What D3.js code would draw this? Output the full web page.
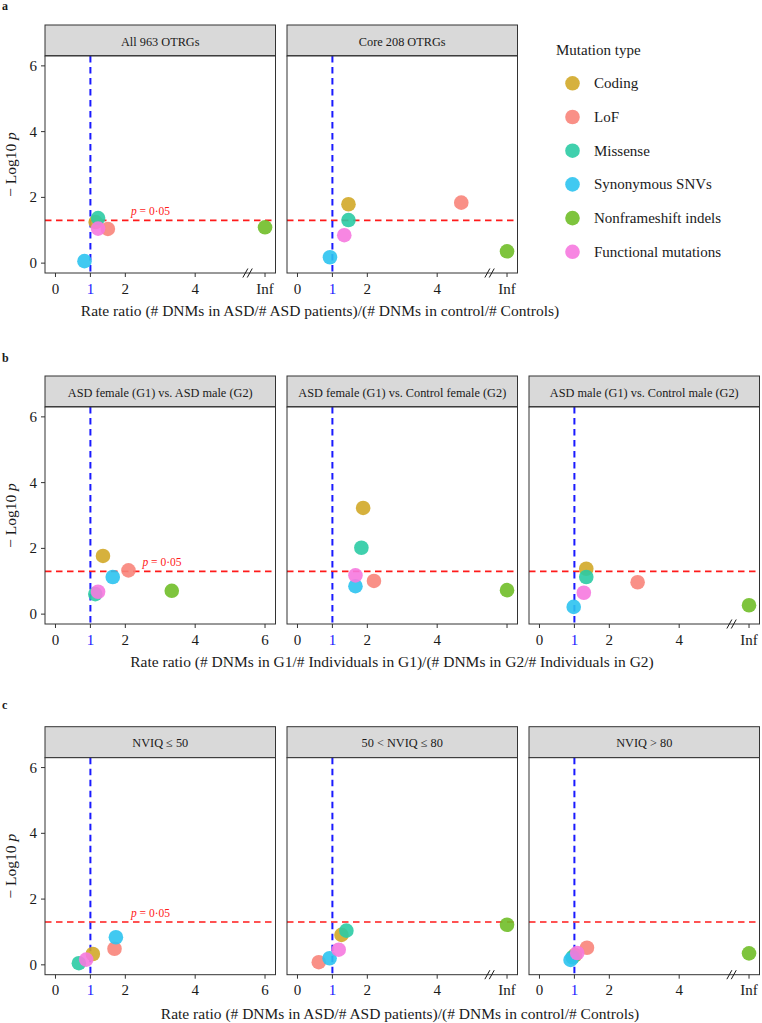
<!DOCTYPE html>
<html>
<head>
<meta charset="utf-8">
<script src="https://cdn.jsdelivr.net/npm/d3@7"></script>
<style>
  html, body { margin: 0; padding: 0; background: #fff; }
  svg { display: block; }
  text { font-family: "Liberation Serif", "DejaVu Serif", serif; }
</style>
</head>
<body>
<svg id="chart" width="762" height="1023"></svg>
<script>
// ---------------- DATA ----------------
const mutationTypes = ["Coding", "LoF", "Missense", "Synonymous SNVs", "Nonframeshift indels", "Functional mutations"];
const typeColors = ["#D1A928", "#F8847A", "#2BCBA4", "#2CC3F0", "#70BE28", "#F679DF"];

// "Inf" = infinite rate ratio, drawn at the axis break position
const stripLabels = [
  ["All 963 OTRGs", "Core 208 OTRGs"],
  ["ASD female (G1) vs. ASD male (G2)", "ASD female (G1) vs. Control female (G2)", "ASD male (G1) vs. Control male (G2)"],
  ["NVIQ \u2264 50", "50 < NVIQ \u2264 80", "NVIQ > 80"]
];

// order of values follows mutationTypes; null = not shown
const a1_ratio = [1.15, 1.50, 1.22, 0.83, "Inf", 1.22];
const a1_logp  = [1.25, 1.04, 1.37, 0.06, 1.09, 1.05];
const a2_ratio = [1.46, 4.69, 1.46, 0.93, "Inf", 1.34];
const a2_logp  = [1.79, 1.84, 1.31, 0.18, 0.36, 0.85];

const b1_ratio = [1.36, 2.09, 1.14, 1.64, 3.33, 1.22];
const b1_logp  = [1.77, 1.33, 0.61, 1.13, 0.71, 0.68];
const b2_ratio = [1.88, 2.19, 1.83, 1.66, 6.00, 1.66];
const b2_logp  = [3.23, 1.01, 2.02, 0.85, 0.73, 1.18];
const b3_ratio = [1.34, 2.81, 1.34, 0.98, "Inf", 1.27];
const b3_logp  = [1.38, 0.97, 1.13, 0.22, 0.27, 0.65];

const c1_ratio = [1.07, 1.69, 0.67, 1.73, null, 0.88];
const c1_logp  = [0.33, 0.49, 0.05, 0.84, null, 0.16];
const c2_ratio = [1.26, 0.61, 1.40, 0.92, "Inf", 1.18];
const c2_logp  = [0.91, 0.08, 1.04, 0.20, 1.22, 0.46];
const c3_ratio = [1.02, 1.36, 0.95, 0.89, "Inf", 1.08];
const c3_logp  = [0.30, 0.52, 0.23, 0.15, 0.35, 0.36];

// x tick sets
const xTicksInf   = [0, 1, 2, 4, "Inf"];
const xTicksSix   = [0, 1, 2, 4, 6];
const xTicksBlank = [0, 1, 2, 4, ""];
const yTicks = [0, 2, 4, 6];
const pThreshold = 0.05;
const refRatio = 1;

const xTitles = [
  "Rate ratio (# DNMs in ASD/# ASD patients)/(# DNMs in control/# Controls)",
  "Rate ratio (# DNMs in G1/# Individuals in G1)/(# DNMs in G2/# Individuals in G2)",
  "Rate ratio (# DNMs in ASD/# ASD patients)/(# DNMs in control/# Controls)"
];
const rowLetters = ["a", "b", "c"];

// ---------------- LAYOUT ----------------
const panels = [
  {row: 0, col: 0, ratio: a1_ratio, logp: a1_logp, ticks: xTicksInf, brk: true,  plab: true},
  {row: 0, col: 1, ratio: a2_ratio, logp: a2_logp, ticks: xTicksInf, brk: true,  plab: false},
  {row: 1, col: 0, ratio: b1_ratio, logp: b1_logp, ticks: xTicksSix, brk: false, plab: true, plabX: 3.05},
  {row: 1, col: 1, ratio: b2_ratio, logp: b2_logp, ticks: xTicksBlank, brk: false, plab: false},
  {row: 1, col: 2, ratio: b3_ratio, logp: b3_logp, ticks: xTicksInf, brk: true,  plab: false},
  {row: 2, col: 0, ratio: c1_ratio, logp: c1_logp, ticks: xTicksSix, brk: false, plab: true},
  {row: 2, col: 1, ratio: c2_ratio, logp: c2_logp, ticks: xTicksInf, brk: true,  plab: false},
  {row: 2, col: 2, ratio: c3_ratio, logp: c3_logp, ticks: xTicksInf, brk: true,  plab: false}
];

const colLeft = [45, 287, 529];
const panelW = 230.5;
const stripTop = [25, 376, 726.7];
const stripH = 31;
const plotH = 217;
const infPos = 6;

const svg = d3.select("#chart");

const xScale = d3.scaleLinear().domain([-0.3, 6.3]);
const yScale = d3.scaleLinear().domain([-0.3, 6.3]);
const toX = v => (v === "Inf" ? infPos : v);

panels.forEach(p => {
  const x0 = colLeft[p.col];
  const top = stripTop[p.row] + stripH;
  const g = svg.append("g");
  const xs = xScale.copy().range([x0, x0 + panelW]);
  const ys = yScale.copy().range([top + plotH, top]);

  // strip
  g.append("rect").attr("x", x0).attr("y", stripTop[p.row]).attr("width", panelW).attr("height", stripH)
    .attr("fill", "#D9D9D9").attr("stroke", "#333").attr("stroke-width", 1);
  g.append("line").attr("x1", x0).attr("x2", x0 + panelW).attr("y1", top).attr("y2", top)
    .attr("stroke", "#333").attr("stroke-width", 1.6);
  g.append("text").attr("x", x0 + panelW / 2).attr("y", stripTop[p.row] + 20.5)
    .attr("text-anchor", "middle").attr("font-size", 12.3).attr("fill", "#1a1a1a")
    .text(stripLabels[p.row][p.col]);

  // panel bg
  g.append("rect").attr("x", x0).attr("y", top).attr("width", panelW).attr("height", plotH)
    .attr("fill", "#fff");

  // reference lines
  g.append("line").attr("x1", x0).attr("x2", x0 + panelW)
    .attr("y1", ys(-Math.log10(pThreshold))).attr("y2", ys(-Math.log10(pThreshold)))
    .attr("stroke", "#FF1A1A").attr("stroke-width", 1.6).attr("stroke-dasharray", "6.5,4.5");
  g.append("line").attr("x1", xs(refRatio)).attr("x2", xs(refRatio))
    .attr("y1", top).attr("y2", top + plotH)
    .attr("stroke", "#1A1AFF").attr("stroke-width", 2).attr("stroke-dasharray", "6.5,4.5");

  // points
  const pts = mutationTypes.map((t, i) => ({t, i, x: p.ratio[i], y: p.logp[i]}))
    .filter(d => d.x !== null && d.y !== null);
  g.selectAll("circle.pt").data(pts).join("circle")
    .attr("cx", d => xs(toX(d.x))).attr("cy", d => ys(d.y)).attr("r", 7.3)
    .attr("fill", d => typeColors[d.i]).attr("fill-opacity", 0.9);

  // p label
  if (p.plab) {
    const t = g.append("text").attr("x", xs(p.plabX || 2.72)).attr("y", ys(1.45))
      .attr("text-anchor", "middle").attr("font-size", 11.5).attr("fill", "#FF1A1A");
    t.append("tspan").attr("font-style", "italic").text("p");
    t.append("tspan").text(" = 0\u00B705");
  }

  // border
  g.append("rect").attr("x", x0).attr("y", top).attr("width", panelW).attr("height", plotH)
    .attr("fill", "none").attr("stroke", "#333").attr("stroke-width", 1);

  // x axis
  const xAxisG = g.append("g");
  p.ticks.forEach(tk => {
    const px = xs(toX(tk === "" ? infPos : tk));
    xAxisG.append("line").attr("x1", px).attr("x2", px).attr("y1", top + plotH).attr("y2", top + plotH + 4)
      .attr("stroke", "#333").attr("stroke-width", 1);
    xAxisG.append("text").attr("x", px).attr("y", top + plotH + 20.5)
      .attr("text-anchor", "middle").attr("font-size", 15)
      .attr("fill", tk === refRatio ? "#1A1AFF" : "#1a1a1a").text(tk);
  });
  if (p.brk) {
    const bx = xs(5.5), by = top + plotH;
    [-2.2, 2.2].forEach(off => {
      xAxisG.append("line").attr("x1", bx + off - 2.5).attr("x2", bx + off + 2.5)
        .attr("y1", by + 4.5).attr("y2", by - 4.5).attr("stroke", "#1a1a1a").attr("stroke-width", 1);
    });
  }

  // y axis (only leftmost column)
  if (p.col === 0) {
    yTicks.forEach(tk => {
      const py = ys(tk);
      g.append("line").attr("x1", x0 - 4).attr("x2", x0).attr("y1", py).attr("y2", py)
        .attr("stroke", "#333").attr("stroke-width", 1);
      g.append("text").attr("x", x0 - 8).attr("y", py + 5)
        .attr("text-anchor", "end").attr("font-size", 15).attr("fill", "#1a1a1a").text(tk);
    });
    const yt = g.append("text")
      .attr("transform", `translate(16,${top + plotH / 2}) rotate(-90)`)
      .attr("text-anchor", "middle").attr("font-size", 15.5).attr("fill", "#1a1a1a");
    yt.append("tspan").text("\u2212 Log10 ");
    yt.append("tspan").attr("font-style", "italic").text("p");
  }
});

// x titles & letters
const xTitleX = [320, 392, 400];
const xTitleY = [316, 667, 1019];
const letterY = [10, 362, 709];
xTitles.forEach((t, r) => {
  svg.append("text").attr("x", xTitleX[r]).attr("y", xTitleY[r]).attr("text-anchor", "middle")
    .attr("font-size", 15.5).attr("fill", "#1a1a1a").text(t);
  svg.append("text").attr("x", 2).attr("y", letterY[r]).attr("font-size", 12).attr("font-weight", "bold")
    .attr("fill", "#1a1a1a").text(rowLetters[r]);
});

// legend
const lg = svg.append("g");
lg.append("text").attr("x", 556).attr("y", 55).attr("font-size", 15).attr("fill", "#1a1a1a").text("Mutation type");
mutationTypes.forEach((t, i) => {
  const cy = 83.3 + i * 33.7;
  lg.append("circle").attr("cx", 572.5).attr("cy", cy).attr("r", 7.3)
    .attr("fill", typeColors[i]).attr("fill-opacity", 0.9);
  lg.append("text").attr("x", 594).attr("y", cy + 5).attr("font-size", 15).attr("fill", "#1a1a1a").text(t);
});
</script>
</body>
</html>
